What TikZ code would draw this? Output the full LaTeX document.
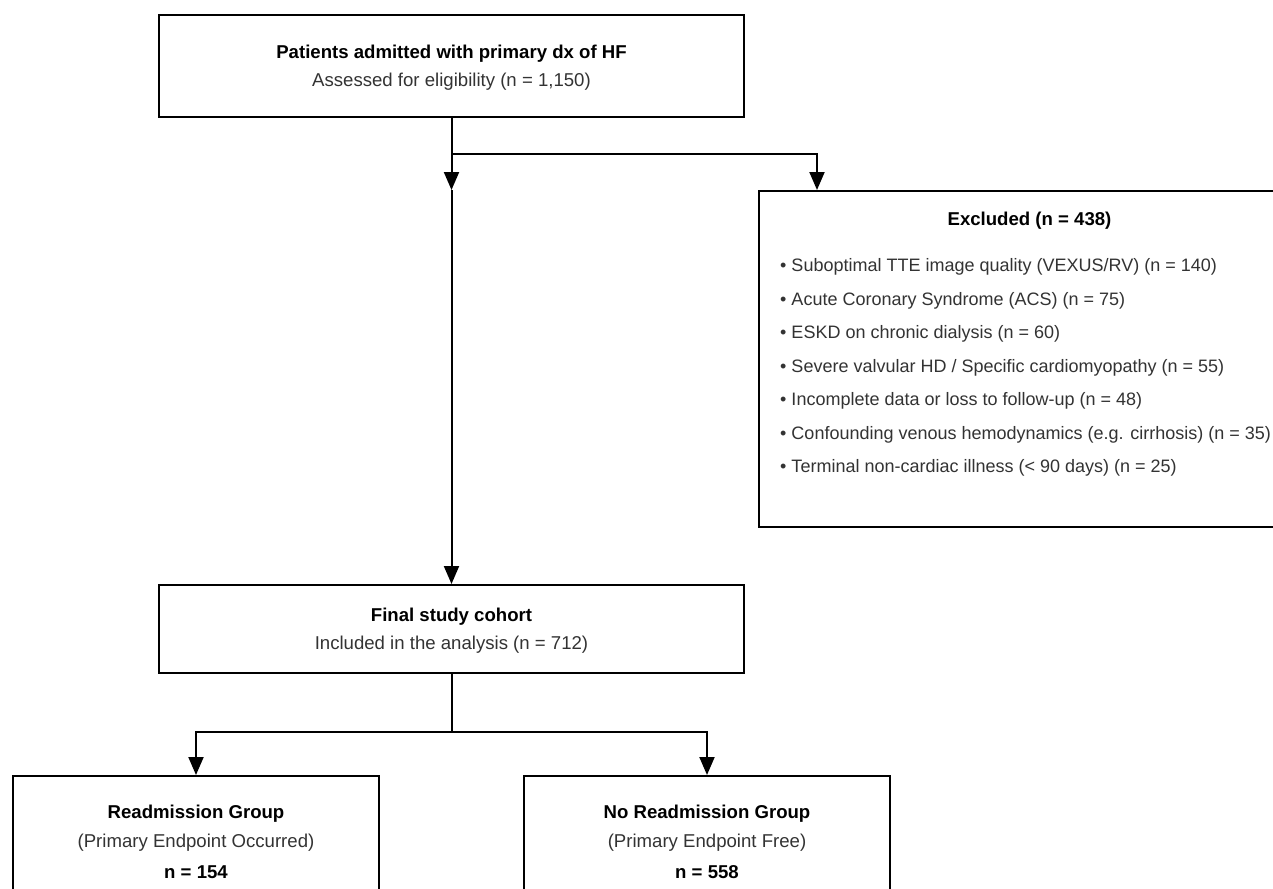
\documentclass[tikz,border=0pt]{standalone}
\usepackage{fontspec}
\setmainfont{Liberation Sans}
\usetikzlibrary{arrows.meta}
\definecolor{txt}{HTML}{333333}
\begin{document}
\begin{tikzpicture}[x=1pt,y=-1pt,
  box/.style={draw=black,line width=2pt,fill=white,inner sep=0pt},
  conn/.style={draw=black,line width=2pt},
  arr/.style={conn,-{Triangle[length=18pt,width=15pt]}},
  head/.style={font=\fontsize{18.6pt}{22pt}\selectfont\bfseries,text=black,inner sep=0pt},
  sub/.style={font=\fontsize{18.6pt}{22pt}\selectfont,text=txt,inner sep=0pt},
  item/.style={font=\fontsize{18pt}{21pt}\selectfont,text=txt,inner sep=0pt,anchor=west}
]
\useasboundingbox (0,0) rectangle (1273,888);
\clip (0,0) rectangle (1273,888);
\fill[white] (0,0) rectangle (1273,888);

% boxes
\node[box,minimum width=585pt,minimum height=102pt] (top) at (451.5,66) {};
\node[box,minimum width=541pt,minimum height=336pt] (excl) at (1029.5,359) {};
\node[box,minimum width=585pt,minimum height=88pt] (final) at (451.5,629) {};
\node[box,minimum width=366pt,minimum height=130pt] (readm) at (196,841) {};
\node[box,minimum width=366pt,minimum height=130pt] (noreadm) at (707,841) {};

% texts
\node[head] (topA) at (451.5,54) {Patients admitted with primary dx of HF};
\node[sub] (topB) at (451.5,82) {Assessed for eligibility (n = 1,150)};

\node[head] (exA) at (1029.5,221) {Excluded (n = 438)};
\node[item] (ex1) at (780,267) {• Suboptimal TTE image quality (VEXUS/RV) (n = 140)};
\node[item] (ex2) at (780,300.5) {• Acute Coronary Syndrome (ACS) (n = 75)};
\node[item] (ex3) at (780,334) {• ESKD on chronic dialysis (n = 60)};
\node[item] (ex4) at (780,367.5) {• Severe valvular HD / Specific cardiomyopathy (n = 55)};
\node[item] (ex5) at (780,401) {• Incomplete data or loss to follow-up (n = 48)};
\node[item] (ex6) at (780,434.5) {• Confounding venous hemodynamics (e.g. cirrhosis) (n = 35)};
\node[item] (ex7) at (780,468) {• Terminal non-cardiac illness (< 90 days) (n = 25)};

\node[head] (fiA) at (451.5,617) {Final study cohort};
\node[sub] (fiB) at (451.5,645) {Included in the analysis (n = 712)};

\node[head] (rA) at (196,814) {Readmission Group};
\node[sub] (rB) at (196,843) {(Primary Endpoint Occurred)};
\node[head] (rC) at (196,872) {n = 154};

\node[head] (nA) at (707,814) {No Readmission Group};
\node[sub] (nB) at (707,843) {(Primary Endpoint Free)};
\node[head] (nC) at (707,872) {n = 558};

% connectors
\coordinate (mid) at (451.5,190);
\coordinate (split) at (451.5,154);
\coordinate (split2) at (451.5,732);
\draw[arr] (top.south) -- (mid);
\draw[arr] (mid) -- (final.north);
\draw[arr] (split) -| (excl.north -| 817,0);
\draw[arr] (final.south) -- (split2) -| (readm.north);
\draw[arr] (split2) -| (noreadm.north);
\end{tikzpicture}
\end{document}
